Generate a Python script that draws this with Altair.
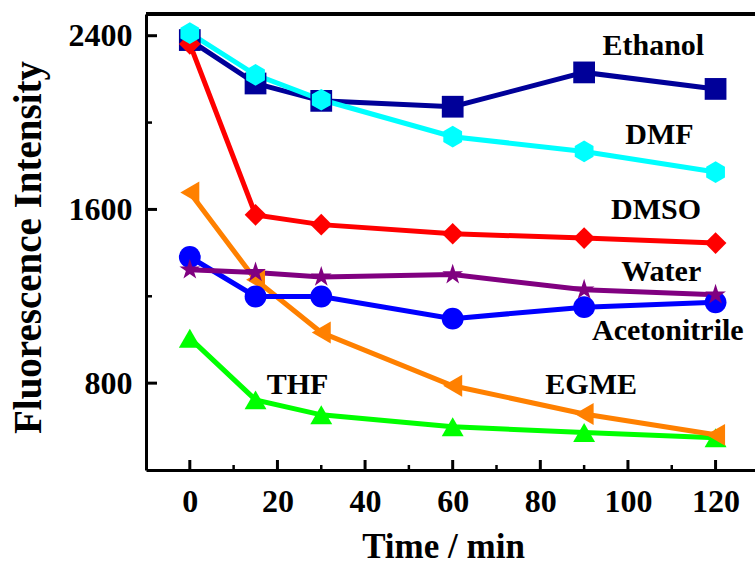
import altair as alt
import pandas as pd

# ---- data ----
times = [0, 15, 30, 60, 90, 120]
draw_order = ["THF", "EGME", "Acetonitrile", "Water", "Ethanol", "DMSO", "DMF"]
thf = [1007, 723, 654, 599, 573, 549]
egme = [1678, 1276, 1033, 788, 658, 562]
acetonitrile = [1381, 1199, 1199, 1097, 1150, 1172]
water = [1322, 1310, 1289, 1300, 1230, 1207]
ethanol = [2380, 2180, 2100, 2073, 2231, 2155]
dmso = [2362, 1575, 1530, 1488, 1468, 1445]
dmf = [2412, 2220, 2105, 1935, 1867, 1772]
series_values = [thf, egme, acetonitrile, water, ethanol, dmso, dmf]

colors = ["#00FF00", "#FF8000", "#0000FF", "#800080", "#000099", "#FF0000", "#00FFFF"]
hexagon = "M0,-1L0.866,-0.5L0.866,0.5L0,1L-0.866,0.5L-0.866,-0.5Z"
star = ("M0,-1L0.2245,-0.309L0.951,-0.309L0.363,0.118L0.588,0.809L0,0.382"
        "L-0.588,0.809L-0.363,0.118L-0.951,-0.309L-0.2245,-0.309Z")
shapes = ["triangle-up", "triangle-left", "circle", star, "square", "diamond", hexagon]
sizes = [480, 470, 400, 540, 290, 500, 440]

label_names = ["Ethanol", "DMF", "DMSO", "Water", "Acetonitrile", "EGME", "THF"]
label_x = [105.8, 107.2, 106.4, 107.6, 109.1, 91.6, 24.6]
label_y = [2351, 1944, 1599, 1314, 1038, 793, 793]

x_major = [0, 20, 40, 60, 80, 100, 120]
x_minor = [10, 30, 50, 70, 90, 110]
y_major = [800, 1600, 2400]
y_minor = [1200, 2000]

FONT = "Liberation Serif"
W, H = 609, 456

rows = []
for i, (name, vals) in enumerate(zip(draw_order, series_values)):
    for t, v in zip(times, vals):
        rows.append({"solvent": name, "time": t, "value": v, "rank": i})
df = pd.DataFrame(rows)
labels_df = pd.DataFrame({"label": label_names, "lx": label_x, "ly": label_y})
xmaj_df = pd.DataFrame({"xt": x_major})
xmin_df = pd.DataFrame({"xt": x_minor})
ymaj_df = pd.DataFrame({"yt": y_major})
ymin_df = pd.DataFrame({"yt": y_minor})

xscale = alt.Scale(domain=[-10, 129], nice=False, zero=False)
yscale = alt.Scale(domain=[400, 2500], nice=False, zero=False)

x_main_axis = alt.Axis(
    orient="bottom", values=x_major, tickSize=0, labelPadding=41,
    labelBaseline="alphabetic", labelFont=FONT, labelFontSize=32,
    labelFontWeight="bold", labelColor="black", domainWidth=3,
    domainColor="black", grid=False, title="Time / min", titleFont=FONT,
    titleFontSize=35, titleFontWeight="bold", titleColor="black",
    titleX=297, titleY=87, titleBaseline="alphabetic", titleAlign="center",
    labelFlush=False, labelOverlap=False, format="d",
)
y_main_axis = alt.Axis(
    orient="left", values=y_major, tickSize=0, labelPadding=14,
    labelFont=FONT, labelFontSize=32, labelFontWeight="bold",
    labelColor="black", labelBaseline="middle", domainWidth=3,
    domainColor="black", grid=False, title="Fluorescence Intensity",
    titleFont=FONT, titleFontSize=39, titleFontWeight="bold",
    titleColor="black", titleAngle=270, titleX=-118, titleY=233,
    titleBaseline="middle", titleAlign="center", labelFlush=False,
    labelOverlap=False, format="d",
)


def X(field):
    return alt.X(field, scale=xscale, axis=x_main_axis)


def Y(field):
    return alt.Y(field, scale=yscale, axis=y_main_axis)


color = alt.Color("solvent:N", scale=alt.Scale(domain=draw_order, range=colors), legend=None)

lines = alt.Chart(df).mark_line(strokeWidth=5).encode(
    x=X("time:Q"), y=Y("value:Q"), color=color,
    detail="solvent:N", order=alt.Order("time:Q"),
)

points = alt.Chart(df).mark_point(filled=True, opacity=1).encode(
    x=X("time:Q"), y=Y("value:Q"), color=color,
    shape=alt.Shape("solvent:N", scale=alt.Scale(domain=draw_order, range=shapes), legend=None),
    size=alt.Size("solvent:N", scale=alt.Scale(domain=draw_order, range=sizes), legend=None),
    order=alt.Order("rank:Q"),
)

texts = alt.Chart(labels_df).mark_text(
    font=FONT, fontSize=30, fontWeight="bold", color="black",
    align="center", baseline="middle",
).encode(x=X("lx:Q"), y=Y("ly:Q"), text="label:N")

# inward ticks drawn through the scales
xmaj = alt.Chart(xmaj_df).mark_rule(color="black", strokeWidth=3).encode(
    x=X("xt:Q"), y=alt.value(H), y2=alt.value(H - 10))
xmin = alt.Chart(xmin_df).mark_rule(color="black", strokeWidth=2.5).encode(
    x=X("xt:Q"), y=alt.value(H), y2=alt.value(H - 5))
ymaj = alt.Chart(ymaj_df).mark_rule(color="black", strokeWidth=3).encode(
    y=Y("yt:Q"), x=alt.value(0), x2=alt.value(11))
ymin = alt.Chart(ymin_df).mark_rule(color="black", strokeWidth=2.5).encode(
    y=Y("yt:Q"), x=alt.value(0), x2=alt.value(6))
top = alt.Chart(xmaj_df).mark_rule(color="black", strokeWidth=3).encode(
    x=alt.value(0), x2=alt.value(W), y=alt.value(0))

chart = alt.layer(lines, points, xmaj, xmin, ymaj, ymin, top, texts).properties(
    width=W, height=H,
    autosize=alt.AutoSizeParams(type="none"),
    padding={"left": 146, "top": 14, "right": 0, "bottom": 96},
    background="white",
).configure_view(strokeWidth=0)

chart.save("out.html", embed_options={"renderer": "svg", "actions": False})
